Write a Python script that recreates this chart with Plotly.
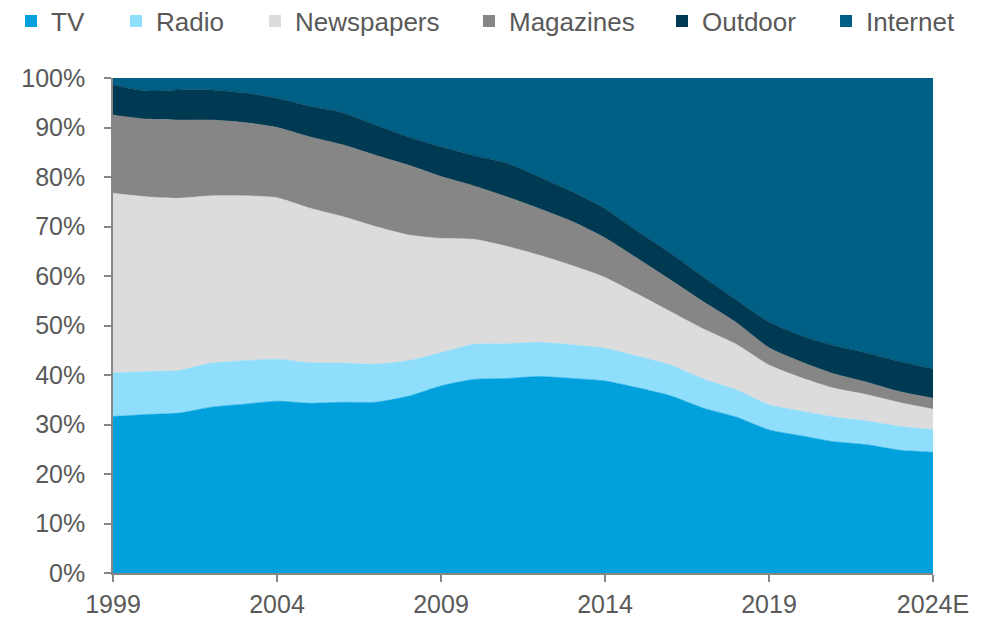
import plotly.graph_objects as go

# Share of advertising spend by medium, percent of total
years = list(range(1999, 2025))
tick_years = [1999, 2004, 2009, 2014, 2019, 2024]
tick_labels = ["1999", "2004", "2009", "2014", "2019", "2024E"]

tv = [31.6, 32.0, 32.3, 33.5, 34.1, 34.7, 34.3, 34.5, 34.5, 35.7, 37.8, 39.1, 39.3,
      39.7, 39.3, 38.8, 37.4, 35.8, 33.3, 31.5, 28.9, 27.7, 26.5, 25.9, 24.8, 24.4]
radio = [8.8, 8.7, 8.6, 8.9, 8.8, 8.5, 8.2, 7.9, 7.7, 7.2, 6.7, 7.1, 7.0,
         6.9, 6.8, 6.6, 6.4, 6.2, 5.9, 5.5, 5.1, 5.0, 5.0, 4.8, 4.8, 4.6]
newspapers = [36.3, 35.3, 34.8, 33.8, 33.3, 32.6, 31.2, 29.6, 27.8, 25.4, 23.1, 21.2, 19.7,
              17.6, 16.0, 14.3, 12.5, 10.8, 10.1, 9.2, 8.0, 6.7, 5.8, 5.3, 4.8, 4.1]
magazines = [15.8, 15.7, 15.8, 15.3, 14.8, 14.2, 14.4, 14.5, 14.4, 14.1, 12.5, 10.8, 10.0,
             9.4, 8.9, 8.0, 7.2, 6.4, 5.5, 4.4, 3.5, 3.2, 2.9, 2.5, 2.2, 2.2]
outdoor = [6.1, 5.7, 6.1, 6.1, 6.0, 5.9, 6.2, 6.5, 6.1, 5.7, 6.0, 6.1, 6.8,
           6.4, 6.0, 5.9, 5.5, 5.4, 5.0, 4.6, 5.2, 5.3, 5.7, 5.9, 6.1, 6.0]
internet = [1.4, 2.6, 2.4, 2.4, 3.0, 4.1, 5.7, 7.0, 9.5, 11.9, 13.9, 15.7, 17.2,
            20.0, 23.0, 26.4, 31.0, 35.4, 40.2, 44.8, 49.3, 52.1, 54.1, 55.6, 57.3, 58.7]

series = [
    ("TV", tv, "#00A0DC"),
    ("Radio", radio, "#8EDEFC"),
    ("Newspapers", newspapers, "#DCDCDC"),
    ("Magazines", magazines, "#868686"),
    ("Outdoor", outdoor, "#003A52"),
    ("Internet", internet, "#005F85"),
]

# left edge (px) of each legend entry along the top row
legend_x = [11, 116, 255, 469, 662, 826]

TEXT = "#595959"
FONT = "Liberation Sans, Arial, sans-serif"
W, H = 991, 618

fig = go.Figure()
for name, vals, color in series:
    fig.add_trace(go.Scatter(
        x=years, y=vals, name=name, stackgroup="share",
        mode="lines", line=dict(color=color, width=0.6, shape="spline", smoothing=0.6),
        fillcolor=color, showlegend=False, hoverinfo="x+y+name",
    ))

layout_legends = {}
for i, ((name, _, color), lx) in enumerate(zip(series, legend_x)):
    key = "legend" if i == 0 else f"legend{i + 1}"
    fig.add_trace(go.Scatter(
        x=[None], y=[None], name=name, mode="markers",
        marker=dict(symbol="square", size=12, color=color),
        legend=key, showlegend=True,
    ))
    layout_legends[key] = dict(
        xref="container", yref="container",
        x=lx / W, y=1 - 21 / H,
        xanchor="left", yanchor="middle",
        orientation="h", bgcolor="rgba(0,0,0,0)", borderwidth=0,
        font=dict(family=FONT, size=26, color=TEXT),
        itemwidth=30,
    )

fig.update_layout(
    width=W, height=H,
    margin=dict(l=113, r=58, t=78, b=45, autoexpand=False),
    paper_bgcolor="white", plot_bgcolor="white",
    font=dict(family=FONT, size=25, color=TEXT),
    **layout_legends,
)

fig.update_xaxes(
    range=[1999, 2024], tickvals=tick_years, ticktext=tick_labels,
    showgrid=False, zeroline=False,
    showline=True, linecolor="#868686", linewidth=1.5,
    ticks="outside", ticklen=7, tickcolor="#868686", tickwidth=1.5,
    ticklabelstandoff=1, automargin=False,
    tickfont=dict(family=FONT, size=25, color=TEXT),
)
fig.update_yaxes(
    range=[0, 100], dtick=10, ticksuffix="%",
    showgrid=False, zeroline=False,
    showline=True, linecolor="#868686", linewidth=1.5,
    ticks="outside", ticklen=7, tickcolor="#868686", tickwidth=1.5,
    ticklabelstandoff=14, automargin=False,
    tickfont=dict(family=FONT, size=25, color=TEXT),
)

fig.write_html("out.html")
